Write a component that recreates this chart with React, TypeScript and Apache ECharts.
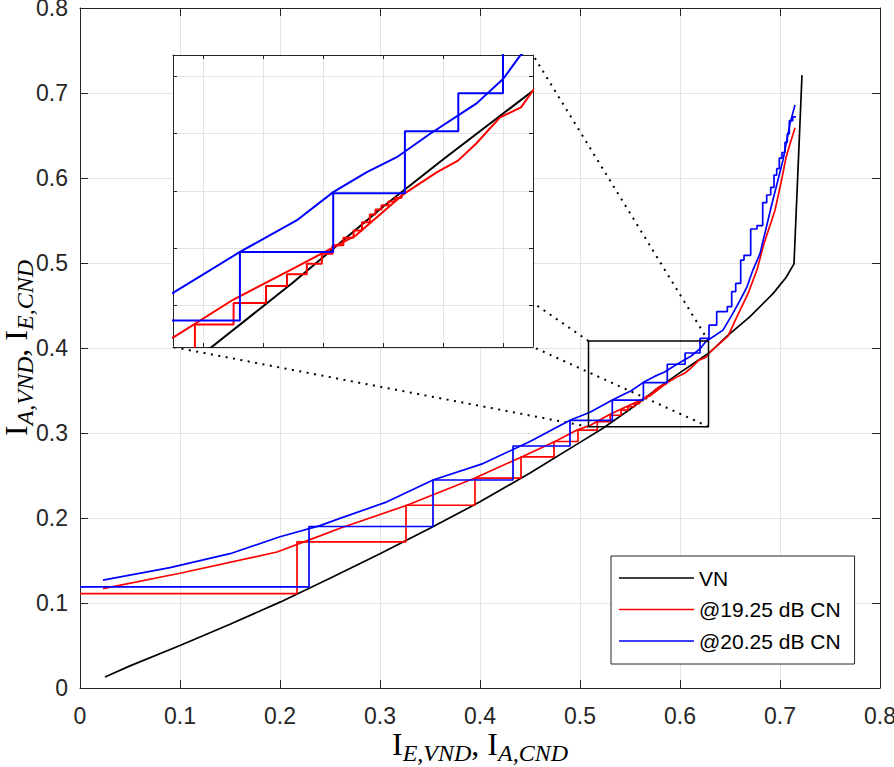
import React, { useEffect, useRef } from "react";
import * as echarts from "echarts";

// ---- data ----
const vnCurve: [number, number][] = [
  [0.025, 0.013], [0.05, 0.026], [0.1, 0.05], [0.15, 0.075], [0.2, 0.101], [0.25, 0.129],
  [0.3, 0.158], [0.35, 0.188], [0.4, 0.219], [0.45, 0.253], [0.5, 0.289], [0.523, 0.3056],
  [0.55, 0.328], [0.58, 0.3545], [0.6, 0.371], [0.63, 0.395], [0.647, 0.414], [0.67, 0.437],
  [0.693, 0.464], [0.706, 0.483], [0.714, 0.499], [0.722, 0.721],
];

const cn1925Curve: [number, number][] = [
  [0.023, 0.117], [0.1, 0.135], [0.197, 0.16], [0.24, 0.179], [0.26, 0.188], [0.327, 0.215],
  [0.395, 0.247], [0.44, 0.271], [0.475, 0.29], [0.498, 0.304], [0.51, 0.3088], [0.53, 0.322],
  [0.551, 0.3334], [0.571, 0.3445], [0.587, 0.359], [0.598, 0.3666], [0.605, 0.3706],
  [0.611, 0.3765], [0.619, 0.3857], [0.626, 0.3892], [0.63, 0.3951], [0.648, 0.414],
  [0.657, 0.437], [0.668, 0.464], [0.677, 0.492], [0.684, 0.523], [0.695, 0.562],
  [0.702, 0.6], [0.706, 0.624], [0.71, 0.64], [0.715, 0.659],
];

const traj1925: [number, number][] = [
  [0, 0.111], [0.217, 0.111], [0.217, 0.172], [0.326, 0.172], [0.326, 0.215], [0.395, 0.215],
  [0.395, 0.247], [0.441, 0.247], [0.441, 0.272], [0.474, 0.272], [0.474, 0.29], [0.498, 0.29],
  [0.498, 0.3035], [0.5173, 0.3035], [0.5173, 0.3134], [0.5302, 0.3134], [0.5302, 0.3209],
  [0.541, 0.3209], [0.541, 0.3268], [0.548, 0.3268], [0.548, 0.3309], [0.5546, 0.3309],
  [0.5546, 0.3346], [0.5596, 0.3346], [0.5596, 0.3381], [0.5632, 0.3381], [0.5632, 0.341],
  [0.5668, 0.341], [0.5668, 0.3437], [0.5702, 0.3437], [0.5702, 0.3462], [0.573, 0.3462],
  [0.573, 0.3491], [0.5756, 0.3491], [0.5756, 0.3518], [0.5775, 0.3518], [0.5775, 0.3535],
  [0.5795, 0.3535], [0.5795, 0.355], [0.5818, 0.355], [0.5818, 0.3563], [0.584, 0.3563],
  [0.584, 0.3576], [0.5862, 0.3576], [0.5862, 0.3588],
];

const cn2025Curve: [number, number][] = [
  [0.023, 0.127], [0.09, 0.1416], [0.15, 0.158], [0.2, 0.178], [0.24, 0.191], [0.26, 0.1996],
  [0.307, 0.219], [0.353, 0.2447], [0.403, 0.264], [0.45, 0.29], [0.49, 0.315], [0.51, 0.3244],
  [0.5323, 0.3387], [0.5512, 0.3497], [0.5634, 0.3596], [0.5746, 0.3666], [0.5846, 0.3718],
  [0.5957, 0.38], [0.6112, 0.3906], [0.6201, 0.3992], [0.6257, 0.4073], [0.643, 0.421],
  [0.652, 0.439], [0.66, 0.456], [0.667, 0.472], [0.673, 0.492], [0.68, 0.511], [0.692, 0.57],
  [0.703, 0.621], [0.71, 0.664], [0.715, 0.686],
];

const traj2025: [number, number][] = [
  [0, 0.119], [0.229, 0.119], [0.229, 0.19], [0.353, 0.19], [0.353, 0.2447], [0.433, 0.2447],
  [0.433, 0.2847], [0.49, 0.2847], [0.49, 0.3148], [0.5323, 0.3148], [0.5323, 0.3387],
  [0.5634, 0.3387], [0.5634, 0.3592], [0.5873, 0.3592], [0.5873, 0.3809], [0.6051, 0.3809],
  [0.6051, 0.3941], [0.62, 0.3941], [0.62, 0.4114], [0.629, 0.4114], [0.629, 0.427],
  [0.6367, 0.427], [0.6367, 0.4427], [0.6473, 0.4427], [0.6473, 0.4486], [0.6517, 0.4486],
  [0.6517, 0.4663], [0.6557, 0.4663], [0.6557, 0.476], [0.6607, 0.476], [0.6607, 0.5035],
  [0.664, 0.5035], [0.664, 0.509], [0.6707, 0.509], [0.6707, 0.54], [0.677, 0.54],
  [0.677, 0.544], [0.6827, 0.544], [0.6827, 0.571], [0.6867, 0.571], [0.6867, 0.58],
  [0.6907, 0.58], [0.6907, 0.589], [0.694, 0.589], [0.694, 0.6035], [0.6967, 0.6035],
  [0.6967, 0.611], [0.6993, 0.611], [0.6993, 0.6235], [0.702, 0.6235], [0.702, 0.63],
  [0.705, 0.63], [0.705, 0.642], [0.7073, 0.642], [0.7073, 0.652], [0.7093, 0.652],
  [0.7093, 0.6675], [0.7127, 0.6675], [0.7127, 0.672], [0.716, 0.672],
];

const seriesNames = ["VN", "@19.25 dB CN", "@20.25 dB CN"];
const seriesColors = ["#000000", "#ff0000", "#0000ff"];

const mainRangeX = [0, 0.8];
const mainRangeY = [0, 0.8];
const insetRangeX = [0.51, 0.63];
const insetRangeY = [0.3055, 0.4075];
const zoomBoxX = [0.5085, 0.6285];
const zoomBoxY = [0.3074, 0.4082];

// ---- layout ----
const MAIN = { left: 80, top: 8, width: 800, height: 680 };
const INSET = { left: 173, top: 55, width: 360, height: 292 };
const FONT = "'Liberation Sans', Arial, Helvetica, sans-serif";
const SERIF = "'Liberation Serif', 'Times New Roman', serif";
const AXIS_COLOR = "#262626";
const GRID_COLOR = "#e3e3e3";

const titleRich = {
  i: { fontFamily: SERIF, fontSize: 32, lineHeight: 32, verticalAlign: "top", color: "#000" },
  c: { fontFamily: SERIF, fontSize: 32, lineHeight: 32, verticalAlign: "top", color: "#000" },
  s: { fontFamily: SERIF, fontStyle: "italic", fontSize: 24, lineHeight: 37, verticalAlign: "bottom", color: "#000" },
};

export default function App() {
  const ref = useRef<HTMLDivElement>(null);

  useEffect(() => {
    document.body.style.margin = "0";
    const chart = echarts.init(ref.current!, null, { renderer: "svg" });

    const mk = (name: string, data: any, xi: number, yi: number, color: string, width: number, z: number) => ({
      type: "line",
      name,
      data,
      xAxisIndex: xi,
      yAxisIndex: yi,
      symbol: "none",
      showSymbol: false,
      silent: true,
      clip: true,
      smooth: false,
      z,
      lineStyle: { color, width },
      itemStyle: { color },
      emphasis: { disabled: true },
    });

    const curveSet = (xi: number, yi: number, w: number, z: number) => [
      mk(seriesNames[0], vnCurve, xi, yi, seriesColors[0], w, z),
      mk(seriesNames[1], cn1925Curve, xi, yi, seriesColors[1], w, z),
      mk(seriesNames[1], traj1925, xi, yi, seriesColors[1], w, z),
      mk(seriesNames[2], cn2025Curve, xi, yi, seriesColors[2], w, z),
      mk(seriesNames[2], traj2025, xi, yi, seriesColors[2], w, z),
    ];

    const boxData = [
      [zoomBoxX[0], zoomBoxY[0]], [zoomBoxX[1], zoomBoxY[0]], [zoomBoxX[1], zoomBoxY[1]],
      [zoomBoxX[0], zoomBoxY[1]], [zoomBoxX[0], zoomBoxY[0]],
    ];

    const axisCommon = (gridIndex: number, range: number[], tickLen: number, z: number) => ({
      type: "value",
      gridIndex,
      min: range[0],
      max: range[1],
      z,
      axisLine: { show: true, onZero: false, lineStyle: { color: AXIS_COLOR, width: 1 } },
      axisTick: { show: true, inside: true, length: tickLen, lineStyle: { color: AXIS_COLOR, width: 1 } },
    });

    const baseSeries: any[] = [
      ...curveSet(0, 0, 1.7, 2),
      mk("zoomBox", boxData, 0, 0, "#000", 1.5, 2),
      ...curveSet(2, 2, 2, 6),
    ];

    const option: any = {
      animation: false,
      backgroundColor: "#ffffff",
      grid: [
        { ...MAIN, containLabel: false, outerBoundsMode: "none" },
        {
          ...INSET, containLabel: false, outerBoundsMode: "none",
          show: true, backgroundColor: "#ffffff", borderWidth: 0, z: 3,
        },
      ],
      xAxis: [
        {
          ...axisCommon(0, mainRangeX, 8, 1),
          position: "bottom",
          interval: 0.1,
          splitLine: { show: true, lineStyle: { color: GRID_COLOR, width: 1 } },
          axisLabel: { show: true, fontSize: 23, color: AXIS_COLOR, fontFamily: FONT, margin: 16 },
          name: "{i|I}{s|E,VND}{c|, }{i|I}{s|A,CND}",
          nameLocation: "middle",
          nameGap: 40,
          nameMoveOverlap: false,
          nameTextStyle: { rich: titleRich },
        },
        {
          ...axisCommon(0, mainRangeX, 8, 1),
          position: "top",
          interval: 0.1,
          splitLine: { show: false },
          axisLabel: { show: false },
        },
        {
          ...axisCommon(1, insetRangeX, 4, 4),
          position: "bottom",
          splitLine: { show: true, lineStyle: { color: GRID_COLOR, width: 1 } },
          axisLabel: { show: false },
        },
        {
          ...axisCommon(1, insetRangeX, 4, 4),
          position: "top",
          splitLine: { show: false },
          axisLabel: { show: false },
        },
      ],
      yAxis: [
        {
          ...axisCommon(0, mainRangeY, 8, 1),
          position: "left",
          interval: 0.1,
          splitLine: { show: true, lineStyle: { color: GRID_COLOR, width: 1 } },
          axisLabel: { show: true, fontSize: 23, color: AXIS_COLOR, fontFamily: FONT, margin: 12 },
          name: "{i|I}{s|A,VND}{c|, }{i|I}{s|E,CND}",
          nameLocation: "middle",
          nameRotate: 90,
          nameGap: 43,
          nameMoveOverlap: false,
          nameTextStyle: { rich: titleRich },
        },
        {
          ...axisCommon(0, mainRangeY, 8, 1),
          position: "right",
          interval: 0.1,
          splitLine: { show: false },
          axisLabel: { show: false },
        },
        {
          ...axisCommon(1, insetRangeY, 4, 4),
          position: "left",
          splitLine: { show: true, lineStyle: { color: GRID_COLOR, width: 1 } },
          axisLabel: { show: false },
        },
        {
          ...axisCommon(1, insetRangeY, 4, 4),
          position: "right",
          splitLine: { show: false },
          axisLabel: { show: false },
        },
      ],
      legend: {
        data: seriesNames.map((n) => ({ name: n, icon: "rect" })),
        orient: "vertical",
        left: 611,
        top: 556,
        itemWidth: 75,
        itemHeight: 1.4,
        itemGap: 9.5,
        padding: [11, 14, 12, 8],
        backgroundColor: "#ffffff",
        borderColor: AXIS_COLOR,
        borderWidth: 1,
        borderRadius: 0,
        selectedMode: false,
        textStyle: { fontSize: 21, lineHeight: 22, color: "#000", fontFamily: FONT },
        z: 8,
      },
      series: baseSeries,
    };

    chart.setOption(option);

    // connector lines between the zoom box and the inset, placed through the main grid's scales
    const toData = (px: number, py: number) =>
      chart.convertFromPixel({ xAxisIndex: 0, yAxisIndex: 0 }, [px, py]) as number[];
    const iTL = toData(INSET.left, INSET.top);
    const iTR = toData(INSET.left + INSET.width, INSET.top);
    const iBL = toData(INSET.left, INSET.top + INSET.height);
    const iBR = toData(INSET.left + INSET.width, INSET.top + INSET.height);
    const bTL = [zoomBoxX[0], zoomBoxY[1]];
    const bTR = [zoomBoxX[1], zoomBoxY[1]];
    const bBL = [zoomBoxX[0], zoomBoxY[0]];
    const bBR = [zoomBoxX[1], zoomBoxY[0]];
    // the top-left connector passes behind the inset: stop it at the inset's right edge
    const t = (iTR[0] - bTL[0]) / (iTL[0] - bTL[0]);
    const cut = [iTR[0], bTL[1] + t * (iTL[1] - bTL[1])];

    const dotted = (name: string, data: number[][]) => ({
      ...mk(name, data, 0, 0, "#000", 2, 1),
      lineStyle: { color: "#000", width: 2, type: [2, 5.5], cap: "butt" },
    });

    chart.setOption({
      series: [
        ...baseSeries,
        dotted("link1", [bBL, iBL]),
        dotted("link2", [bTL, cut]),
        dotted("link3", [bBR, iBR]),
        dotted("link4", [bTR, iTR]),
      ],
    });

    return () => {
      chart.dispose();
    };
  }, []);

  return (
    <div
      ref={ref}
      style={{ position: "absolute", left: 0, top: 0, width: 894, height: 767, background: "#fff" }}
    />
  );
}
